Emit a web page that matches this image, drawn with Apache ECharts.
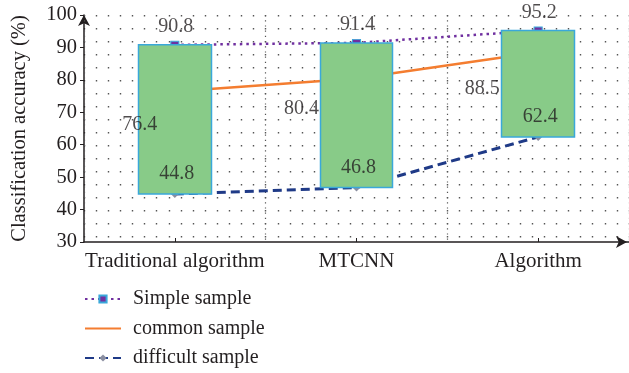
<!DOCTYPE html>
<html>
<head>
<meta charset="utf-8">
<script src="https://cdn.jsdelivr.net/npm/echarts@6/dist/echarts.min.js"></script>
<style>
html,body{margin:0;padding:0;background:#fff;}
#chart{width:629px;height:373px;}
</style>
</head>
<body>
<div id="chart"></div>
<script>
const categories = ['Traditional algorithm', 'MTCNN', 'Algorithm'];
const simpleSample = [90.8, 91.4, 95.2];
const commonSample = [76.4, 80.4, 88.5];
const difficultSample = [44.8, 46.8, 62.4];
const yTicks = { min: 30, max: 100, interval: 10 };
const seriesNames = ['Simple sample', 'common sample', 'difficult sample'];

// label placement (styling only)
const commonLabelOffsets = [[-35, 33], [-55, 30], [-56, 36]];

const FONT = 'Liberation Serif';
const TXT = '#231f20';

const chart = echarts.init(document.getElementById('chart'));

function labelSeries(name, values, offsets) {
  return {
    name: name,
    type: 'scatter',
    xAxisIndex: 0,
    symbolSize: 1,
    itemStyle: { color: 'transparent' },
    silent: true,
    z: 10,
    data: values.map((v, i) => ({
      value: v,
      label: { offset: offsets[i] }
    })),
    label: {
      show: true,
      position: 'inside',
      fontFamily: FONT,
      fontSize: 20,
      color: TXT,
      formatter: p => String(p.value)
    }
  };
}

const option = {
  animation: false,
  backgroundColor: '#fff',
  grid: { left: 84, top: 15, width: 549, height: 227 },
  legend: {
    data: [
      { name: seriesNames[0] },
      { name: seriesNames[1], itemStyle: { opacity: 0 } },
      { name: seriesNames[2] }
    ],
    orient: 'vertical',
    left: 84,
    top: 289,
    padding: 0,
    itemWidth: 36,
    itemHeight: 9,
    itemGap: 9.5,
    textStyle: { fontFamily: FONT, fontSize: 20, lineHeight: 20, color: TXT, padding: [0, 0, 0, 7] }
  },
  xAxis: [
    {
      type: 'category',
      data: categories,
      boundaryGap: true,
      axisLine: { show: true, lineStyle: { color: '#231f20', width: 1.5 }, symbol: ['none', 'arrow'], symbolSize: [9, 11], symbolOffset: [0, -2] },
      axisTick: { show: true, alignWithLabel: true, inside: true, length: 4, lineStyle: { color: '#231f20' } },
      axisLabel: { fontFamily: FONT, fontSize: 21, color: TXT, margin: 9, interval: 0, hideOverlap: false },
      splitLine: { show: true, lineStyle: { color: '#555', width: 1.2, type: [1.2, 4] } },
      z: 1
    },
    {
      type: 'value',
      min: 0, max: 45, interval: 1,
      position: 'bottom',
      axisLine: { show: false },
      axisTick: { show: false },
      axisLabel: { show: false },
      splitLine: { show: true, lineStyle: { color: '#555', width: 1.4, type: [1.4, 11.6] } }
    }
  ],
  yAxis: {
    type: 'value',
    min: yTicks.min, max: yTicks.max, interval: yTicks.interval,
    name: 'Classification accuracy (%)',
    nameLocation: 'middle',
    nameGap: 54,
    nameTextStyle: { fontFamily: FONT, fontSize: 20.5, color: TXT },
    axisLine: { show: true, lineStyle: { color: '#231f20', width: 1.5 }, symbol: ['none', 'arrow'], symbolSize: [9, 11] },
    axisTick: { show: true, length: 4, lineStyle: { color: '#231f20' } },
    axisLabel: { fontFamily: FONT, fontSize: 20.5, color: TXT, margin: 7 },
    splitLine: { show: false }
  },
  series: [
    {
      name: seriesNames[0],
      type: 'line',
      data: simpleSample,
      symbol: 'rect',
      symbolSize: [8, 7],
      itemStyle: { color: '#7030a0', borderColor: '#3aa8da', borderWidth: 1 },
      lineStyle: { color: '#7030a0', width: 2.5, type: [2.5, 4] },
      z: 2
    },
    {
      name: seriesNames[1],
      type: 'line',
      data: commonSample,
      symbol: 'none',
      itemStyle: { color: '#f47d30' },
      lineStyle: { color: '#f47d30', width: 2.5 },
      z: 2
    },
    {
      name: seriesNames[2],
      type: 'line',
      data: difficultSample,
      symbol: 'diamond',
      symbolSize: 8,
      itemStyle: { color: '#8a8ea0' },
      lineStyle: { color: '#1f3a87', width: 3, type: [9, 5] },
      z: 2
    },
    {
      name: 'range',
      type: 'candlestick',
      barWidth: 73,
      z: 3,
      data: categories.map((c, i) => [difficultSample[i], simpleSample[i], difficultSample[i], simpleSample[i]]),
      itemStyle: { color: '#88cb88', color0: '#88cb88', borderColor: '#3aa8da', borderColor0: '#3aa8da', borderWidth: 1.5 }
    },
    labelSeries('lblSimple', simpleSample, simpleSample.map(() => [1, -18])),
    labelSeries('lblCommon', commonSample, commonLabelOffsets),
    labelSeries('lblDifficult', difficultSample, difficultSample.map(() => [2, -20]))
  ]
};
chart.setOption(option);
</script>
</body>
</html>
